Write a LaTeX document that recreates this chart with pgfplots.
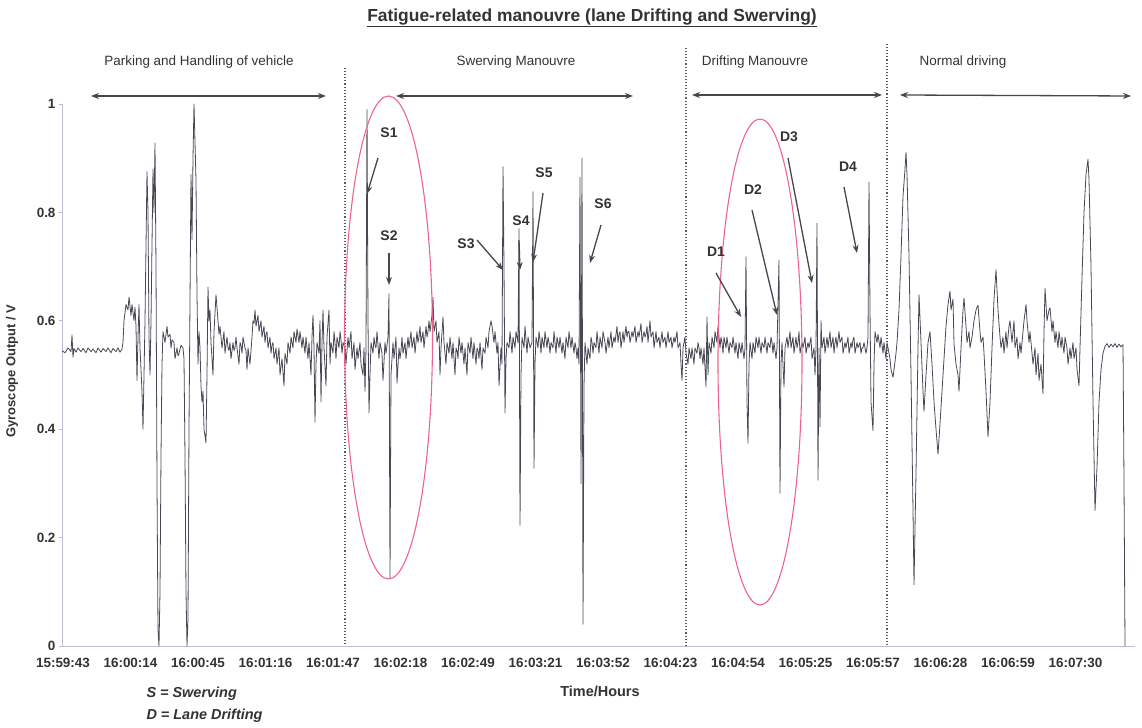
\documentclass[border=0pt]{standalone}
\usepackage{fontspec}
\setmainfont{Liberation Sans}
\usepackage{pgfplots}
\pgfplotsset{compat=1.18}
\usetikzlibrary{arrows.meta}
\definecolor{trace}{RGB}{72,72,84}
\definecolor{axisc}{RGB}{185,190,210}
\definecolor{ellc}{RGB}{236,100,140}
\definecolor{arrc}{RGB}{70,70,75}
\definecolor{dotc}{RGB}{90,90,100}
\definecolor{txt}{RGB}{50,50,55}
\begin{document}
\begin{tikzpicture}
\path[use as bounding box] (-62bp,-82bp) rectangle (1080bp,646bp);
\begin{axis}[
  at={(0,0)}, anchor=south west,
  scale only axis, width=1073bp, height=542bp,
  xmin=-1, xmax=1072, ymin=0, ymax=1,
  axis lines=left, axis line style={-, draw=axisc, line width=0.8bp},
  xtick={0,67.5,135,202.5,270,337.5,405,472.5,540,607.5,675,742.5,810,877.5,945,1012.5},
  xticklabels={15:59:43,16:00:14,16:00:45,16:01:16,16:01:47,16:02:18,16:02:49,16:03:21,16:03:52,16:04:23,16:04:54,16:05:25,16:05:57,16:06:28,16:06:59,16:07:30},
  ytick={0,0.2,0.4,0.6,0.8,1},
  yticklabels={0,0.2,0.4,0.6,0.8,1},
  x tick style={draw=none}, y tick style={draw=axisc, line width=0.8bp},
  tick align=outside, major tick length=3bp,
  ticklabel style={font=\fontsize{13.5}{16}\selectfont\bfseries, text=txt},
  xticklabel style={yshift=-6bp},
  clip=false,
]
\addplot[color=trace, line width=0.8pt, line join=round] table[row sep=\\] {
x y\\
-1 0.545\\ 2 0.541\\ 5 0.550\\ 8 0.543\\ 9 0.574\\ 10 0.533\\ 11 0.549\\ 13 0.542\\ 15 0.550\\ 18 0.543\\ 20 0.549\\ 23 0.541\\ 25 0.550\\ 28 0.543\\ 30 0.548\\ 33 0.541\\ 35 0.550\\ 38 0.542\\ 40 0.549\\ 43 0.543\\ 45 0.550\\ 48 0.541\\ 50 0.549\\ 53 0.543\\ 55 0.550\\ 57 0.542\\ 59 0.548\\
60 0.56\\ 61 0.60\\ 63 0.63\\ 65 0.62\\ 66 0.644\\ 68 0.61\\ 69 0.63\\ 71 0.60\\ 72 0.625\\ 73 0.59\\ 74 0.49\\ 75 0.57\\ 76 0.63\\ 77 0.55\\ 79 0.47\\ 80 0.40\\ 81 0.50\\ 82 0.60\\ 84 0.875\\ 85 0.80\\ 86 0.57\\ 87 0.50\\ 88 0.60\\ 90 0.88\\ 91 0.80\\ 92 0.928\\ 93 0.70\\ 94 0.30\\ 95 0.03\\ 96 0.00\\ 97 0.10\\ 98 0.35\\ 99 0.52\\
100 0.58\\ 102 0.56\\ 104 0.59\\ 105 0.57\\ 107 0.575\\ 108 0.55\\ 109 0.565\\ 111 0.56\\ 112 0.53\\ 114 0.55\\ 115 0.535\\ 116 0.54\\ 118 0.555\\ 120 0.55\\ 121 0.53\\ 122 0.35\\ 123 0.10\\ 124 0.00\\ 125 0.05\\ 126 0.40\\ 128 0.87\\ 129 0.75\\ 130 0.90\\ 131 1.00\\ 132 0.93\\ 133 0.86\\ 134 0.65\\ 135 0.52\\ 136 0.58\\ 137 0.55\\ 138 0.48\\ 139 0.45\\ 140 0.47\\ 141 0.40\\ 143 0.375\\ 144 0.50\\ 145 0.662\\ 146 0.60\\ 147 0.62\\ 148 0.56\\ 150 0.50\\ 151 0.58\\ 153 0.648\\
155 0.60\\ 156 0.575\\ 157 0.59\\ 159 0.55\\ 160 0.565\\ 161 0.58\\ 162 0.54\\ 164 0.57\\ 165 0.55\\ 166 0.545\\ 167 0.56\\ 168 0.53\\ 170 0.56\\ 171 0.545\\ 172 0.55\\ 173 0.57\\ 174 0.55\\ 176 0.52\\ 177 0.56\\ 178 0.555\\ 179 0.54\\ 180 0.57\\ 182 0.55\\ 183 0.545\\ 184 0.51\\ 185 0.55\\ 187 0.52\\ 189 0.57\\ 190 0.60\\ 191 0.595\\ 192 0.62\\ 193 0.59\\ 195 0.61\\ 196 0.58\\ 197 0.59\\ 198 0.60\\ 199 0.57\\
201 0.59\\ 202 0.56\\ 203 0.575\\ 204 0.58\\ 205 0.55\\ 207 0.57\\ 208 0.54\\ 209 0.555\\ 210 0.56\\ 211 0.53\\ 213 0.55\\ 214 0.52\\ 216 0.55\\ 217 0.50\\ 219 0.53\\ 221 0.48\\ 222 0.54\\ 224 0.52\\ 225 0.56\\ 226 0.55\\ 227 0.54\\ 228 0.57\\ 230 0.55\\ 231 0.58\\ 232 0.57\\ 233 0.56\\ 234 0.585\\ 236 0.56\\ 237 0.58\\ 238 0.565\\ 239 0.55\\ 240 0.57\\ 242 0.54\\ 243 0.57\\ 245 0.53\\ 246 0.56\\ 248 0.50\\ 249 0.57\\
250 0.61\\ 251 0.55\\ 252 0.413\\ 253 0.52\\ 254 0.56\\ 256 0.54\\ 257 0.60\\ 258 0.45\\ 259 0.56\\ 260 0.62\\ 261 0.55\\ 263 0.48\\ 264 0.57\\ 266 0.62\\ 267 0.52\\ 268 0.56\\ 270 0.54\\ 271 0.58\\ 272 0.56\\ 273 0.53\\ 274 0.57\\ 276 0.55\\ 277 0.58\\ 278 0.565\\ 279 0.54\\ 280 0.56\\ 282 0.55\\
283 0.52\\ 285 0.57\\ 286 0.55\\ 287 0.565\\ 288 0.58\\ 289 0.53\\ 291 0.56\\ 292 0.51\\ 294 0.55\\ 295 0.53\\ 296 0.545\\ 297 0.56\\ 298 0.52\\ 300 0.50\\ 301 0.55\\ 302 0.47\\ 303 0.55\\ 304 0.99\\ 305 0.60\\ 306 0.43\\ 307 0.50\\ 308 0.56\\ 310 0.54\\ 311 0.57\\ 312 0.555\\ 313 0.55\\ 314 0.58\\ 316 0.53\\ 317 0.56\\ 318 0.55\\ 319 0.54\\ 320 0.49\\ 322 0.56\\ 323 0.54\\ 325 0.57\\ 326 0.65\\ 327 0.125\\ 328 0.50\\
330 0.56\\ 331 0.53\\ 333 0.57\\ 334 0.485\\ 336 0.55\\ 337 0.53\\ 338 0.545\\ 339 0.57\\ 340 0.54\\ 342 0.56\\ 343 0.53\\ 345 0.57\\ 346 0.55\\ 347 0.565\\ 348 0.58\\ 349 0.55\\ 351 0.57\\ 352 0.54\\ 354 0.58\\ 355 0.56\\ 356 0.57\\ 357 0.59\\ 358 0.56\\ 360 0.58\\ 361 0.55\\ 363 0.59\\ 364 0.57\\ 365 0.58\\ 366 0.60\\ 367 0.58\\ 369 0.61\\ 370 0.644\\ 371 0.58\\ 373 0.60\\ 374 0.56\\ 376 0.58\\ 377 0.50\\
378 0.55\\ 380 0.607\\ 381 0.56\\ 383 0.52\\ 384 0.56\\ 385 0.55\\ 386 0.54\\ 387 0.57\\ 389 0.53\\ 390 0.56\\ 392 0.50\\ 393 0.55\\ 394 0.545\\ 395 0.53\\ 396 0.57\\ 398 0.54\\ 399 0.56\\ 401 0.52\\ 402 0.55\\ 404 0.50\\ 405 0.56\\ 406 0.55\\ 407 0.54\\ 408 0.57\\ 410 0.53\\ 411 0.56\\ 413 0.52\\ 414 0.55\\ 415 0.545\\ 416 0.53\\ 417 0.56\\ 419 0.51\\ 420 0.55\\ 422 0.54\\ 423 0.57\\ 425 0.55\\ 426 0.58\\ 428 0.60\\ 429 0.59\\ 431 0.56\\ 432 0.58\\ 434 0.54\\ 435 0.56\\ 436 0.48\\ 438 0.55\\ 439 0.52\\
440 0.884\\ 441 0.70\\ 442 0.43\\ 443 0.53\\ 444 0.56\\ 446 0.55\\ 447 0.58\\ 448 0.56\\ 449 0.54\\ 450 0.57\\ 452 0.55\\ 453 0.58\\ 455 0.56\\ 456 0.77\\ 457 0.223\\ 458 0.50\\ 459 0.57\\ 461 0.55\\ 462 0.59\\ 464 0.54\\ 465 0.57\\ 466 0.56\\ 467 0.55\\ 469 0.56\\ 470 0.838\\ 471 0.328\\ 472 0.52\\ 473 0.57\\ 475 0.55\\ 476 0.58\\ 477 0.565\\ 478 0.54\\ 479 0.57\\ 481 0.55\\ 482 0.58\\ 484 0.55\\ 485 0.57\\ 486 0.56\\ 487 0.54\\ 488 0.56\\ 490 0.55\\ 491 0.58\\ 493 0.54\\ 494 0.57\\ 495 0.56\\ 496 0.55\\ 497 0.57\\ 499 0.54\\
500 0.56\\ 502 0.53\\ 503 0.57\\ 504 0.56\\ 505 0.55\\ 506 0.58\\ 508 0.55\\ 509 0.57\\ 511 0.54\\ 512 0.56\\ 513 0.55\\ 514 0.53\\ 515 0.55\\ 516 0.52\\ 517 0.865\\ 518 0.30\\ 519 0.90\\ 520 0.04\\ 521 0.48\\ 522 0.56\\ 524 0.52\\ 525 0.55\\ 527 0.53\\ 528 0.57\\ 529 0.56\\ 530 0.54\\ 531 0.56\\ 533 0.55\\ 534 0.58\\ 536 0.54\\ 537 0.57\\ 538 0.56\\ 539 0.55\\ 540 0.58\\ 542 0.56\\ 543 0.54\\ 545 0.57\\ 546 0.55\\ 547 0.565\\ 548 0.58\\ 549 0.55\\
551 0.57\\ 552 0.56\\ 554 0.59\\ 555 0.56\\ 556 0.575\\ 557 0.58\\ 558 0.55\\ 560 0.58\\ 561 0.56\\ 563 0.59\\ 564 0.57\\ 565 0.58\\ 566 0.58\\ 567 0.56\\ 569 0.58\\ 570 0.57\\ 572 0.59\\ 573 0.56\\ 574 0.57\\ 575 0.58\\ 576 0.57\\ 578 0.595\\ 579 0.56\\ 581 0.58\\ 582 0.57\\ 583 0.575\\ 584 0.59\\ 585 0.56\\ 587 0.60\\ 588 0.57\\ 590 0.58\\ 591 0.55\\ 592 0.565\\ 593 0.58\\ 594 0.56\\ 596 0.57\\ 597 0.55\\ 599 0.58\\
600 0.56\\ 601 0.565\\ 602 0.57\\ 603 0.55\\ 605 0.58\\ 606 0.56\\ 608 0.57\\ 609 0.55\\ 610 0.56\\ 611 0.57\\ 612 0.56\\ 614 0.58\\ 615 0.55\\ 617 0.56\\ 618 0.52\\ 619 0.49\\ 620 0.55\\ 622 0.57\\
623 0.54\\ 625 0.52\\ 626 0.55\\ 627 0.54\\ 628 0.53\\ 629 0.55\\ 631 0.52\\ 632 0.55\\ 634 0.54\\ 635 0.56\\ 636 0.55\\ 637 0.53\\ 638 0.55\\ 640 0.52\\ 641 0.55\\ 643 0.478\\ 644 0.607\\ 645 0.50\\ 646 0.56\\ 648 0.54\\ 649 0.57\\ 650 0.56\\ 651 0.55\\ 652 0.58\\ 654 0.56\\ 655 0.59\\ 657 0.55\\ 658 0.57\\ 659 0.56\\ 660 0.54\\ 661 0.57\\ 663 0.55\\ 664 0.57\\ 666 0.54\\ 667 0.56\\ 668 0.555\\ 669 0.55\\ 670 0.57\\ 672 0.54\\ 673 0.56\\ 675 0.53\\ 676 0.56\\ 677 0.55\\ 678 0.54\\ 679 0.56\\ 681 0.53\\ 682 0.55\\ 683 0.718\\ 684 0.45\\ 685 0.374\\ 686 0.52\\ 687 0.56\\ 689 0.53\\
690 0.56\\ 691 0.55\\ 692 0.54\\ 693 0.57\\ 695 0.55\\ 696 0.57\\ 698 0.54\\ 699 0.56\\ 700 0.555\\ 701 0.55\\ 702 0.57\\ 704 0.54\\ 705 0.56\\ 707 0.55\\ 708 0.57\\ 709 0.56\\ 710 0.54\\ 711 0.56\\ 713 0.53\\ 714 0.55\\ 716 0.712\\ 717 0.282\\ 718 0.52\\ 719 0.56\\ 721 0.478\\ 722 0.55\\ 724 0.57\\ 725 0.55\\ 726 0.565\\ 727 0.58\\ 728 0.55\\ 730 0.57\\ 731 0.54\\ 733 0.57\\ 734 0.55\\ 735 0.56\\ 736 0.58\\ 737 0.54\\ 739 0.56\\ 740 0.55\\ 742 0.57\\ 743 0.54\\ 744 0.55\\ 745 0.56\\ 746 0.55\\ 748 0.57\\ 749 0.53\\
751 0.55\\ 752 0.50\\ 753 0.55\\ 754 0.78\\ 755 0.306\\ 756 0.55\\ 757 0.404\\ 758 0.60\\ 759 0.55\\ 761 0.57\\ 762 0.54\\ 763 0.555\\ 764 0.57\\ 765 0.55\\ 767 0.58\\ 768 0.55\\ 770 0.57\\ 771 0.54\\ 772 0.56\\ 773 0.57\\ 774 0.55\\ 776 0.58\\ 777 0.56\\ 779 0.57\\ 780 0.54\\ 781 0.55\\ 782 0.56\\ 783 0.55\\ 785 0.57\\ 786 0.54\\ 788 0.56\\ 789 0.55\\ 790 0.565\\ 791 0.57\\ 792 0.54\\ 794 0.56\\ 795 0.55\\ 797 0.56\\ 798 0.54\\ 799 0.55\\
800 0.55\\ 801 0.56\\ 803 0.54\\ 804 0.55\\ 805 0.57\\ 806 0.856\\ 807 0.62\\ 808 0.45\\ 810 0.397\\ 811 0.52\\ 812 0.58\\ 814 0.56\\ 815 0.575\\ 817 0.55\\ 818 0.57\\ 820 0.54\\ 821 0.56\\ 823 0.53\\ 824 0.56\\
827 0.53\\ 828 0.51\\ 830 0.496\\ 831 0.51\\ 833 0.54\\ 834 0.56\\ 836 0.62\\ 838 0.72\\ 840 0.83\\ 842 0.88\\ 843 0.911\\ 844 0.87\\ 846 0.72\\ 848 0.50\\ 850 0.25\\ 851 0.113\\ 853 0.32\\ 855 0.55\\ 856 0.648\\ 858 0.56\\ 860 0.47\\ 861 0.433\\ 863 0.50\\ 865 0.56\\ 867 0.58\\ 869 0.52\\ 871 0.45\\ 873 0.40\\ 875 0.354\\ 877 0.41\\ 879 0.47\\ 881 0.53\\ 883 0.59\\ 885 0.63\\ 887 0.655\\ 888 0.62\\ 890 0.64\\ 891 0.557\\ 893 0.52\\ 895 0.50\\ 896 0.47\\ 898 0.55\\
900 0.62\\ 901 0.642\\ 903 0.59\\ 904 0.56\\ 906 0.58\\ 907 0.55\\ 909 0.57\\ 911 0.60\\ 913 0.62\\ 915 0.629\\ 917 0.58\\ 918 0.56\\ 920 0.57\\ 921 0.54\\ 923 0.47\\ 925 0.386\\ 927 0.45\\ 929 0.55\\ 931 0.64\\ 933 0.694\\ 935 0.62\\ 937 0.57\\ 938 0.55\\ 940 0.57\\ 941 0.54\\ 943 0.58\\ 944 0.55\\ 946 0.59\\ 947 0.60\\ 949 0.56\\
951 0.60\\ 952 0.55\\ 954 0.57\\ 955 0.53\\ 957 0.56\\ 958 0.54\\ 960 0.58\\ 961 0.60\\ 963 0.63\\ 964 0.60\\ 966 0.56\\ 967 0.58\\ 969 0.54\\ 970 0.52\\ 972 0.55\\ 973 0.50\\ 975 0.54\\ 976 0.49\\ 978 0.52\\ 980 0.465\\ 981 0.58\\ 982 0.66\\ 984 0.60\\ 986 0.62\\ 987 0.624\\ 989 0.58\\ 990 0.60\\ 992 0.56\\ 993 0.58\\ 995 0.55\\ 996 0.58\\ 998 0.55\\ 999 0.57\\
1001 0.54\\ 1002 0.57\\ 1004 0.55\\ 1005 0.52\\ 1007 0.55\\ 1008 0.53\\ 1010 0.56\\ 1011 0.53\\ 1013 0.55\\ 1014 0.51\\ 1016 0.48\\ 1017 0.55\\ 1019 0.68\\ 1021 0.80\\ 1023 0.87\\ 1025 0.898\\ 1026 0.86\\ 1028 0.70\\ 1030 0.45\\ 1032 0.25\\ 1034 0.33\\ 1036 0.45\\ 1038 0.51\\ 1040 0.54\\ 1042 0.553\\ 1044 0.558\\ 1046 0.551\\ 1048 0.557\\ 1050 0.552\\ 1052 0.558\\ 1054 0.551\\ 1056 0.557\\ 1058 0.552\\ 1060 0.556\\ 1061 0.30\\ 1062 0.00\\
};
\end{axis}
\begin{scope}[shift={(-62bp,646bp)}, x=1bp, y=-1bp]
  % title
  \node[font=\fontsize{17.5}{20}\selectfont\bfseries, text=txt] at (592,18) {\underline{Fatigue-related manouvre (lane Drifting and Swerving)}};
  % region labels
  \begin{scope}[every node/.style={font=\fontsize{13.5}{16}\selectfont, text=txt}]
    \node at (199,62) {Parking and Handling of vehicle};
    \node at (516,62) {Swerving Manouvre};
    \node at (755,62) {Drifting Manouvre};
    \node at (963,62) {Normal driving};
  \end{scope}
  % region arrows
  \begin{scope}[draw=arrc, line width=1.3bp, {Stealth[length=8bp,width=6bp]}-{Stealth[length=8bp,width=6bp]}]
    \draw (91,96) -- (326,96);
    \draw (396,96) -- (633,96);
    \draw (692,95) -- (882,95);
    \draw (900,95) -- (1131,96);
  \end{scope}
  % separators
  \begin{scope}[draw=dotc, line width=1.1bp, dotted]
    \draw (345,68) -- (345,646);
    \draw (686,48) -- (686,646);
    \draw (887,44) -- (887,646);
  \end{scope}
  % ellipses
  \draw[ellc, line width=1.1bp] (388.5,337.5) ellipse [x radius=44, y radius=241.5];
  \draw[ellc, line width=1.1bp] (760,362) ellipse [x radius=42, y radius=243];
  % annotation labels
  \begin{scope}[every node/.style={font=\fontsize{14}{16}\selectfont\bfseries, text=txt}]
    \node at (389,133) {S1};
    \node at (389,236) {S2};
    \node at (466,244) {S3};
    \node at (521,221) {S4};
    \node at (544,173) {S5};
    \node at (603,204) {S6};
    \node at (716,252) {D1};
    \node at (753,190) {D2};
    \node at (789,137) {D3};
    \node at (848,167) {D4};
  \end{scope}
  \begin{scope}[draw=arrc, line width=1.3bp, -{Stealth[length=8bp,width=6bp]}]
    \draw (378,158) -- (367,194);
    \draw (389,253) -- (389,285);
    \draw (477,240) -- (503,270);
    \draw (519,240) -- (520,270);
    \draw (543,193) -- (533,262);
    \draw (601,225) -- (590,263);
    \draw (716,273) -- (741,317);
    \draw (752,210) -- (777,315);
    \draw (788,158) -- (812,283);
    \draw (844,187) -- (857,253);
  \end{scope}
  % axis titles
  \node[font=\fontsize{14.5}{17}\selectfont\bfseries, text=txt] at (600,691) {Time/Hours};
  \node[font=\fontsize{13}{15}\selectfont\bfseries, text=txt, rotate=90] at (12,371) {Gyroscope Output / V};
  \node[font=\fontsize{14.5}{17}\selectfont\bfseries\itshape, text=txt, anchor=west] at (143,694) {S = Swerving};
  \node[font=\fontsize{14.5}{17}\selectfont\bfseries\itshape, text=txt, anchor=west] at (143,716) {D = Lane Drifting};
\end{scope}
\end{tikzpicture}
\end{document}
